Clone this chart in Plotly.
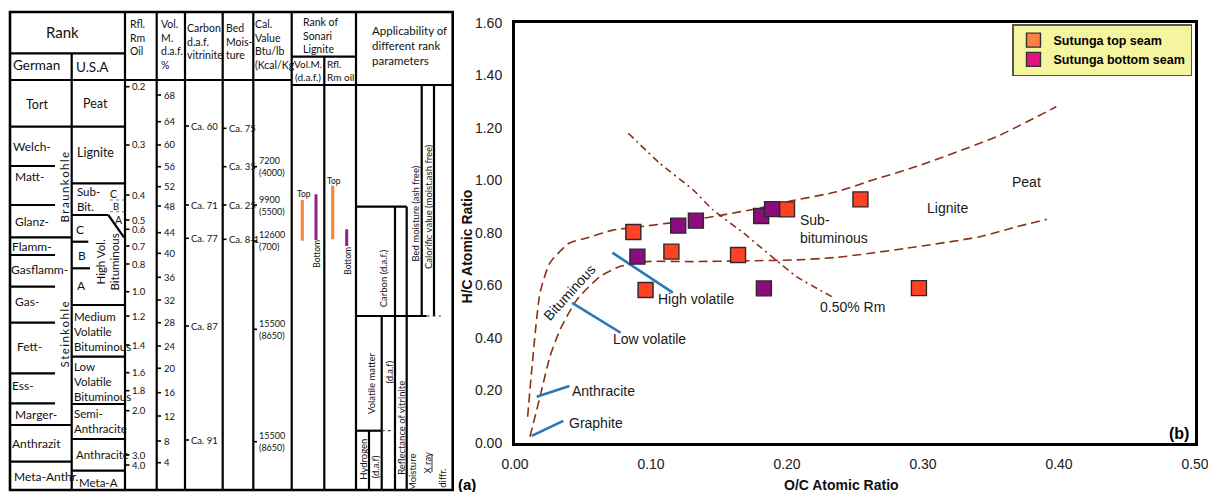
import plotly.graph_objects as go

# ---------------- DATA (right panel: van Krevelen diagram) ----------------
top_oc = [0.087, 0.096, 0.115, 0.164, 0.200, 0.254, 0.297]
top_hc = [0.804, 0.583, 0.729, 0.716, 0.890, 0.928, 0.590]
bottom_oc = [0.090, 0.120, 0.133, 0.181, 0.189, 0.183]
bottom_hc = [0.710, 0.828, 0.847, 0.865, 0.891, 0.589]

# rank band boundaries (dashed)
upper_oc = [0.0093, 0.0123, 0.0184, 0.0257, 0.040, 0.0527, 0.072, 0.092, 0.131, 0.153, 0.180, 0.200, 0.2365, 0.263, 0.295, 0.354, 0.398]
upper_hc = [0.100, 0.278, 0.571, 0.686, 0.762, 0.781, 0.811, 0.824, 0.850, 0.869, 0.895, 0.919, 0.957, 1.002, 1.053, 1.167, 1.281]
lower_oc = [0.011, 0.0184, 0.0257, 0.033, 0.0454, 0.0625, 0.077, 0.097, 0.131, 0.168, 0.204, 0.2365, 0.288, 0.342, 0.369, 0.391]
lower_hc = [0.024, 0.176, 0.329, 0.430, 0.545, 0.634, 0.672, 0.691, 0.691, 0.694, 0.697, 0.707, 0.742, 0.786, 0.824, 0.852]
rm_oc = [0.0833, 0.1066, 0.131, 0.1456, 0.168, 0.180, 0.192, 0.207, 0.224, 0.235]
rm_hc = [1.180, 1.065, 0.964, 0.888, 0.800, 0.748, 0.697, 0.634, 0.583, 0.552]

# pointer lines
graphite_oc, graphite_hc = [0.0123, 0.0355], [0.027, 0.084]
anthracite_oc, anthracite_hc = [0.016, 0.040], [0.176, 0.217]
lowvol_oc, lowvol_hc = [0.042, 0.0777], [0.534, 0.420]
highvol_oc, highvol_hc = [0.0716, 0.116], [0.725, 0.573]

x_ticks = [0.0, 0.1, 0.2, 0.3, 0.4, 0.5]
y_ticks = [0.0, 0.2, 0.4, 0.6, 0.8, 1.0, 1.2, 1.4, 1.6]

# ---------------- DATA (left panel: rank table) ----------------
rm_labels = ['0.2', '0.3', '0.4', '0.5', '0.6', '0.7', '0.8', '1.0', '1.2', '1.4', '1.6', '1.8', '2.0', '3.0', '4.0']
vm_labels = ['68', '64', '60', '56', '52', '48', '44', '40', '36', '32', '28', '24', '20', '16', '12', '8', '4']
carbon_labels = ['Ca. 60', 'Ca. 71', 'Ca. 77', 'Ca. 87', 'Ca. 91']
moist_labels = ['Ca. 75', 'Ca. 35', 'Ca. 25', 'Ca. 8-1']
cal_labels = ['7200<br>(4000)', '9900<br>(5500)', '12600<br>(700)', '15500<br>(8650)', '15500<br>(8650)']
german_ranks = ['Welch-', 'Matt-', 'Glanz-', 'Flamm-', 'Gasflamm-', 'Gas-', 'Fett-', 'Ess-', 'Marger-', 'Anthrazit', 'Meta-Anthr.']

# ---------------- layout positions (pixels) ----------------
W, H = 1208, 492
def fx(x): return x / W
def fy(y): return 1 - y / H

rm_pos = [86.7, 145, 195, 220, 229.3, 246, 264, 291.7, 316, 345, 372.7, 390.7, 410.7, 455, 465]
vm_pos = [95, 121.7, 145, 166.7, 186.7, 206, 232.7, 253.3, 277.3, 300, 322.7, 346, 368.3, 392.7, 416, 441, 462.7]
carbon_pos = [126, 205, 238.3, 326, 440]
moist_pos = [128.3, 166.7, 205, 239.3]
cal_pos = [166.7, 205, 241, 329.3, 441.7]
german_pos = [(12, 146.7), (14, 176.7), (14, 221.7), (11, 246.7), (10, 269.3), (14, 301.7),
              (16, 346), (11, 385), (14, 414), (11, 443.3), (13, 476.7)]

TF = "Lato, Liberation Sans, sans-serif"
MF = "Liberation Sans, Arial, sans-serif"
BROWN = '#8E2F17'
BLUE = '#2878B8'

fig = go.Figure()

for xs, ys, dash in [(upper_oc, upper_hc, '9px,5px'), (lower_oc, lower_hc, '9px,5px'), (rm_oc, rm_hc, '7px,4px,2px,4px')]:
    fig.add_trace(go.Scatter(x=xs, y=ys, mode='lines', line=dict(color=BROWN, width=1.6, dash=dash, shape='spline', smoothing=0.6),
                             showlegend=False, hoverinfo='skip'))
for xs, ys in [(graphite_oc, graphite_hc), (anthracite_oc, anthracite_hc), (lowvol_oc, lowvol_hc), (highvol_oc, highvol_hc)]:
    fig.add_trace(go.Scatter(x=xs, y=ys, mode='lines', line=dict(color=BLUE, width=2.6), showlegend=False, hoverinfo='skip'))

fig.add_trace(go.Scatter(x=top_oc, y=top_hc, mode='markers', showlegend=False, name='Sutunga top seam',
                         marker=dict(symbol='square', size=15, color='#FF4224', line=dict(color='#2a2a2a', width=1.4))))
fig.add_trace(go.Scatter(x=bottom_oc, y=bottom_hc, mode='markers', showlegend=False, name='Sutunga bottom seam',
                         marker=dict(symbol='square', size=15, color='#8C0C7E', line=dict(color='#2a2a2a', width=1.4))))
# legend entries (legend uses lighter swatches as in the original)
fig.add_trace(go.Scatter(x=[None], y=[None], mode='markers', name='Sutunga top seam',
                         marker=dict(symbol='square', size=14, color='#FF8040', line=dict(color='#333', width=1.4))))
fig.add_trace(go.Scatter(x=[None], y=[None], mode='markers', name='Sutunga bottom seam',
                         marker=dict(symbol='square', size=14, color='#E3127F', line=dict(color='#333', width=1.4))))

shapes = []
ann = []

def hline(y, x0, x1, w=2.2, color='black', dash=None):
    d = dict(type='line', xref='paper', yref='paper', x0=fx(x0), x1=fx(x1), y0=fy(y), y1=fy(y),
             line=dict(color=color, width=w))
    if dash:
        d['line']['dash'] = dash
    shapes.append(d)

def vline(x, y0, y1, w=2.2, color='black'):
    shapes.append(dict(type='line', xref='paper', yref='paper', x0=fx(x), x1=fx(x), y0=fy(y0), y1=fy(y1),
                       line=dict(color=color, width=w)))

def seg(x0, y0, x1, y1, w=2.2, color='black'):
    shapes.append(dict(type='line', xref='paper', yref='paper', x0=fx(x0), x1=fx(x1), y0=fy(y0), y1=fy(y1),
                       line=dict(color=color, width=w)))

def txt(t, x, y, size=11, anchor='left', angle=0, family=TF, color='#111', bold=False, vanchor='middle'):
    f = dict(family=family, size=size, color=color)
    if bold:
        f['weight'] = 'bold'
    ann.append(dict(text=t, x=fx(x), y=fy(y), xref='paper', yref='paper', showarrow=False, xanchor=anchor,
                    yanchor=vanchor, textangle=angle, font=f, borderpad=0,
                    align='left' if anchor == 'left' else 'center'))

# outer border
shapes.append(dict(type='rect', xref='paper', yref='paper', x0=fx(10), x1=fx(452.7), y0=fy(490), y1=fy(12),
                   line=dict(color='black', width=2.6)))
# header
hline(53.3, 10, 125)
hline(80, 10, 291.7)
hline(85, 291.7, 452.7)
hline(56.7, 291.7, 356)
for x in [125, 156.7, 185, 222.7, 253.3, 291.7, 356]:
    vline(x, 12, 490)
vline(71.7, 53.3, 490)
vline(324.3, 56.7, 490)
# german column
hline(126.7, 10, 125)
for y in [166, 205, 255, 286.7, 322.7, 373.3, 403.3]:
    hline(y, 10, 55)
for y in [237.3, 425, 461.7]:
    hline(y, 10, 71.7)
# usa column
hline(183.3, 71.7, 125)
hline(215, 71.7, 108.3)
seg(108.3, 215, 124, 237.3)
hline(200, 110, 124, w=1, color='#777', dash='dot')
hline(211.7, 110, 124, w=1, color='#777', dash='dot')
hline(241.7, 71.7, 88.3)
hline(268.3, 71.7, 90)
for y in [305, 356.7, 404, 439, 470.7]:
    hline(y, 71.7, 125)
# applicability
hline(206.7, 356, 406.7)
vline(395, 206.7, 490)
vline(406.7, 206.7, 490)
vline(421.7, 85, 316)
vline(434, 85, 316)
hline(316, 356, 426.7)
hline(316, 426.7, 441, w=1.2, color='#444', dash='dot')
vline(381.7, 316, 490)
hline(430.7, 356, 381.7)
hline(430.7, 381.7, 395, w=1.2, color='#444', dash='dot')
vline(369, 430.7, 490)
vline(432, 454, 472, w=1, color='#333')

# ticks in numeric columns
for lab, y in zip(rm_labels, rm_pos):
    hline(y, 125, 129.5, w=1.6)
    txt(lab, 131, y, size=9.5)
for lab, y in zip(vm_labels, vm_pos):
    hline(y, 156.7, 161, w=1.6)
    txt(lab, 162.5, y, size=9.5)
for lab, y in zip(carbon_labels, carbon_pos):
    hline(y, 185, 189, w=1.6)
    txt(lab, 190, y, size=9.5)
for lab, y in zip(moist_labels, moist_pos):
    hline(y, 222.7, 226.5, w=1.6)
    txt(lab, 227.5, y, size=9.5)
for lab, y in zip(cal_labels, cal_pos):
    hline(y, 253.3, 257, w=1.6)
    txt(lab, 258, y, size=9)

# header text
txt('Rank', 62, 31.7, size=15, anchor='center')
txt('German', 12, 65, size=13.5)
txt('U.S.A', 75, 67, size=13.5)
txt('Rfl.<br>Rm<br>Oil', 129, 37.5, size=10.5)
txt('Vol.<br>M.<br>d.a.f.<br>%', 160, 44, size=10.5)
txt('Carbon<br>d.a.f.<br>vitrinite', 185.5, 41.5, size=10.5)
txt('Bed<br>Mois-<br>ture', 224.5, 42, size=10.5)
txt('Cal.<br>Value<br>Btu/lb<br>(Kcal/Kg', 254, 44.5, size=10.5)
txt('Rank of<br>Sonari<br>Lignite', 302, 36, size=10.5)
txt('Vol.M.<br>(d.a.f.)', 308, 71, size=10, anchor='center')
txt('Rfl.<br>Rm oil', 326, 70, size=10)
txt('Applicability of<br>different rank<br>parameters', 371, 45.5, size=11.5)

# German rank names
txt('Tort', 36.7, 105, size=12.5, anchor='center')
for lab, (x, y) in zip(german_ranks, german_pos):
    txt(lab, x, y, size=12)
txt('\u2009'.join('Braunkohle'), 63.5, 187, size=11.5, anchor='center', angle=-90)
txt('\u2009'.join('Steinkohle'), 63.5, 335, size=11.5, anchor='center', angle=-90)

# USA rank names
txt('Peat', 95, 103.3, size=12.5, anchor='center')
txt('Lignite', 76, 152.7, size=12.5)
txt('Sub-<br>Bit.', 76, 199, size=11.5)
txt('C', 113.5, 194, size=10.5, anchor='center')
txt('B', 116, 206, size=9.5, anchor='center')
txt('A', 118.5, 219.5, size=10.5, anchor='center')
txt('C', 80.5, 229.3, size=12, anchor='center')
txt('B', 82, 255, size=12, anchor='center')
txt('A', 81, 285, size=12, anchor='center')
txt('High Vol.<br>Bituminous', 107.5, 262, size=11.5, anchor='center', angle=-90)
txt('Medium<br>Volatile<br>Bituminous', 72.5, 331, size=11.5)
txt('Low<br>Volatile<br>Bituminous', 72.5, 381.7, size=11.5)
txt('Semi-<br>Anthracite', 73, 421, size=11.5)
txt('Anthracite', 74.5, 454.3, size=11.5)
txt('Meta-A', 78, 482.7, size=11.5)

# Sonari lignite rank bars
ORANGE_BAR = '#F7832F'
PURPLE_BAR = '#921E8E'
vline(302.3, 200, 240.7, w=3, color=ORANGE_BAR)
vline(316, 194.3, 240, w=3, color=PURPLE_BAR)
vline(332.7, 185.7, 239.3, w=3, color=ORANGE_BAR)
vline(346.7, 229.3, 246, w=3, color=PURPLE_BAR)
txt('Top', 304, 194.3, size=8.5, anchor='center')
txt('Top', 334.3, 181, size=8.5, anchor='center')
txt('Bottom', 316.7, 254, size=8.5, anchor='center', angle=-90)
txt('Bottom', 347.3, 260.5, size=8.5, anchor='center', angle=-90)

# applicability labels
for t, x, y in [('Carbon (d.a.f.)', 383.3, 278), ('Volatile matter', 371.7, 383.3), ('(d.a.f)', 389, 372.5),
                ('Reflectance of vitrinite', 400.8, 428), ('Hydrogen', 362.7, 459), ('(d.a.f)', 375.5, 466.7),
                ('Moisture', 412, 473), ('X ray', 426.5, 463), ('diffr.', 441.7, 478),
                ('Bed moisture (ash free)', 414.5, 214), ('Calorific value (moist.ash free)', 428.3, 206.7)]:
    txt(t, x, y, size=9.5, anchor='center', angle=-90)

txt('(a)', 467, 484, size=15, anchor='center', family=MF, color='black', bold=True)

# ---------------- right panel annotations ----------------
LF = dict(family=MF, size=14, color='#1a1a1a')
def dtxt(t, x, y, anchor='left', angle=0, font=LF):
    ann.append(dict(text=t, x=x, y=y, xref='x', yref='y', showarrow=False, xanchor=anchor, yanchor='middle',
                    textangle=angle, font=font, borderpad=0, align='left' if anchor == 'left' else 'center'))

dtxt('Graphite', 0.039, 0.077)
dtxt('Anthracite', 0.0415, 0.199)
dtxt('Low volatile', 0.0715, 0.395)
dtxt('High volatile', 0.1043, 0.547)
dtxt('Bituminous', 0.0404, 0.574, anchor='center', angle=-48)
dtxt('Sub-<br>bituminous', 0.2085, 0.817)
dtxt('Lignite', 0.318, 0.894, anchor='center')
dtxt('Peat', 0.376, 0.993, anchor='center')
dtxt('0.50% Rm', 0.2232, 0.519)
dtxt('(b)', 0.488, 0.037, anchor='center', font=dict(family=MF, size=16, color='black', weight='bold'))

txt('H/C Atomic Ratio', 466.7, 246.7, size=14, anchor='center', angle=-90, family=MF, color='#111', bold=True)
txt('O/C Atomic Ratio', 842, 485, size=14, anchor='center', family=MF, color='#111', bold=True)

axis_common = dict(showline=True, linecolor='black', linewidth=3, mirror=True, showgrid=False, zeroline=False,
                   ticks='', tickfont=dict(family=MF, size=14, color='#222'), fixedrange=True,
                   ticklabeloverflow='allow')

fig.update_layout(
    width=W, height=H, margin=dict(l=0, r=0, t=0, b=0, autoexpand=False),
    paper_bgcolor='white', plot_bgcolor='white',
    xaxis=dict(domain=[fx(515), fx(1195)], range=[0, 0.5], tickvals=x_ticks, tickformat='.2f',
               ticklabelstandoff=6, **axis_common),
    yaxis=dict(domain=[fy(443), fy(23)], range=[0, 1.6], tickvals=y_ticks, tickformat='.2f',
               ticklabelstandoff=7, **axis_common),
    legend=dict(x=fx(1012), y=fy(24), xanchor='left', yanchor='top', bgcolor='#F5F5A0',
                bordercolor='#555', borderwidth=1.5, font=dict(family=MF, size=12.5, color='black', weight='bold'),
                itemwidth=30, tracegroupgap=0),
    shapes=shapes, annotations=ann,
)

fig.write_html("out.html", config={'displayModeBar': False},
               post_script="document.body.style.margin='0px';document.body.style.overflow='hidden';")
